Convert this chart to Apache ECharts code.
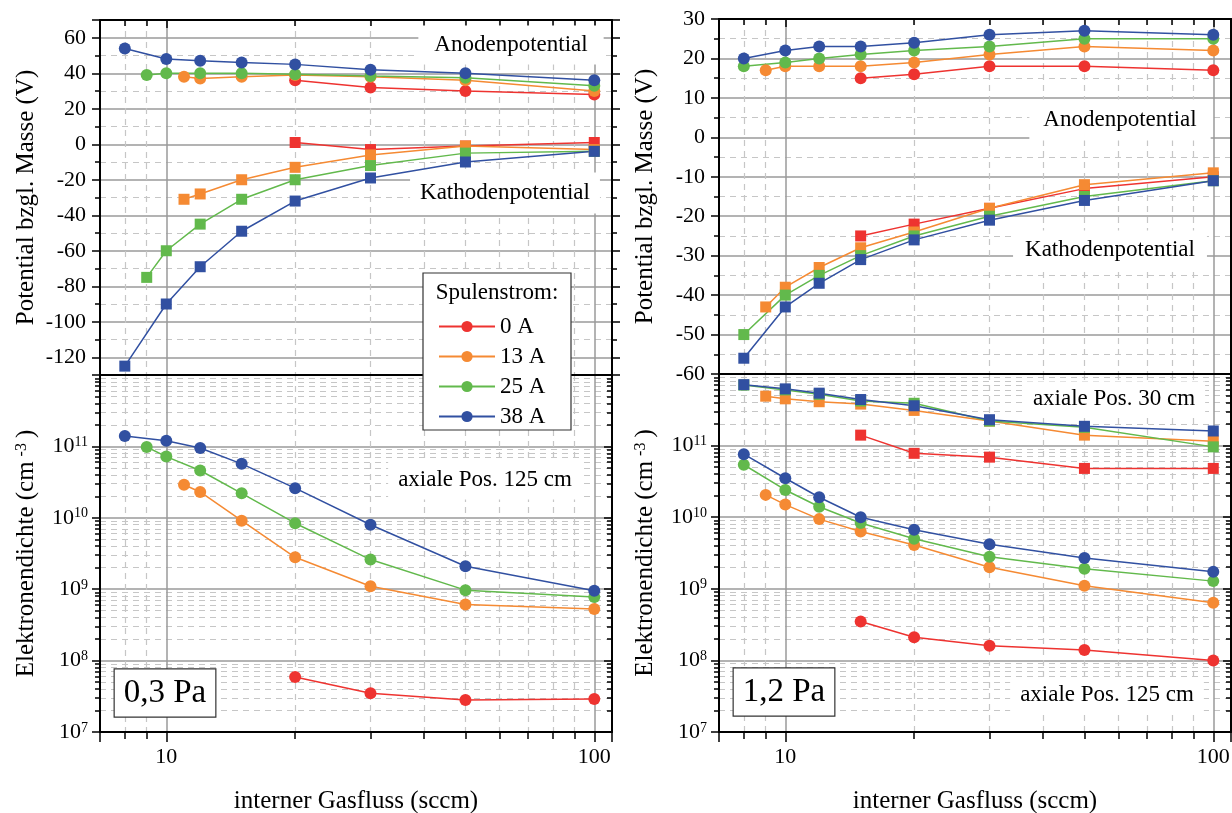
<!DOCTYPE html>
<html>
<head>
<meta charset="utf-8">
<script src="https://cdn.jsdelivr.net/npm/echarts@6/dist/echarts.min.js"></script>
<style>
html, body { margin: 0; padding: 0; background: #fff; }
#main { width: 1232px; height: 813px; }
</style>
</head>
<body>
<div id="main"></div>
<script>
// Spulenstrom (legend)
var currents = ['0 A', '13 A', '25 A', '38 A'];

// interner Gasfluss (sccm), per current
var flowLo = [
    [20, 30, 50, 100],
    [11, 12, 15, 20, 30, 50, 100],
    [9, 10, 12, 15, 20, 30, 50, 100],
    [8, 10, 12, 15, 20, 30, 50, 100]
];
var flowHi = [
    [15, 20, 30, 50, 100],
    [9, 10, 12, 15, 20, 30, 50, 100],
    [8, 10, 12, 15, 20, 30, 50, 100],
    [8, 10, 12, 15, 20, 30, 50, 100]
];

// 0,3 Pa
var anodeLo = [
    [36, 32, 30, 28],
    [38, 37, 38, 39, 38, 36, 30],
    [39, 40, 40, 40, 39.5, 38.5, 37.5, 33],
    [54, 48, 47, 46, 45, 42, 40, 36]
];
var cathodeLo = [
    [1, -3, -1, 1],
    [-31, -28, -20, -13, -6, -1, -3],
    [-75, -60, -45, -31, -20, -12, -5, -4],
    [-125, -90, -69, -49, -32, -19, -10, -4]
];
var dens125Lo = [
    [5.9e7, 3.5e7, 2.8e7, 2.9e7],
    [2.9e10, 2.3e10, 9.1e9, 2.8e9, 1.1e9, 6.1e8, 5.3e8],
    [9.8e10, 7.2e10, 4.6e10, 2.2e10, 8.4e9, 2.6e9, 9.7e8, 7.8e8],
    [1.4e11, 1.2e11, 9.5e10, 5.7e10, 2.6e10, 8e9, 2.1e9, 9.5e8]
];

// 1,2 Pa
var anodeHi = [
    [15, 16, 18, 18, 17],
    [17, 18, 18, 18, 19, 21, 23, 22],
    [18, 19, 20, 21, 22, 23, 25, 25],
    [20, 22, 23, 23, 24, 26, 27, 26]
];
var cathodeHi = [
    [-25, -22, -18, -13, -10],
    [-43, -38, -33, -28, -24, -18, -12, -9],
    [-50, -40, -35, -30, -25, -20, -15, -11],
    [-56, -43, -37, -31, -26, -21, -16, -11]
];
var dens30Hi = [
    [1.4e11, 7.8e10, 6.9e10, 4.8e10, 4.8e10],
    [4.9e11, 4.5e11, 4.1e11, 3.8e11, 3.1e11, 2.2e11, 1.4e11, 1.15e11],
    [7e11, 6e11, 5.2e11, 4.2e11, 3.9e11, 2.2e11, 1.8e11, 9.6e10],
    [7.1e11, 6.2e11, 5.4e11, 4.4e11, 3.6e11, 2.3e11, 1.86e11, 1.6e11]
];
var dens125Hi = [
    [3.5e8, 2.1e8, 1.6e8, 1.4e8, 1e8],
    [2.05e10, 1.5e10, 9.4e9, 6.3e9, 4.1e9, 2e9, 1.1e9, 6.4e8],
    [5.4e10, 2.4e10, 1.4e10, 8.3e9, 5e9, 2.8e9, 1.9e9, 1.28e9],
    [7.6e10, 3.5e10, 1.9e10, 1e10, 6.7e9, 4.2e9, 2.7e9, 1.73e9]
];

var colors = ['#EE3330', '#F58A33', '#62B94C', '#3150A1'];
var FONT = '"Liberation Serif", "Times New Roman", serif';
var BLACK = { color: '#000', width: 2 };
var TICK = { color: '#000', width: 1.5 };
var MAJOR = { color: '#9a9a9a', width: 1.5 };
var MINOR = { color: '#c6c6c6', width: 1.2, type: [6, 5] };

var myChart = echarts.init(document.getElementById('main'));

function makeGrid(left, top, height) {
    return { left: left, top: top, width: 512, height: height, containLabel: false, outerBoundsMode: 'none' };
}

function xMain(gi, labels) {
    return {
        type: 'log', logBase: 10, gridIndex: gi, min: 7, max: 110,
        axisLine: { show: true, onZero: false, lineStyle: BLACK },
        axisTick: { show: labels, inside: false, length: 10, lineStyle: TICK },
        minorTick: { show: labels, splitNumber: 9, length: 7, lineStyle: TICK },
        axisLabel: {
            show: labels, color: '#000', fontFamily: FONT, fontSize: 22, margin: 14,
            formatter: function (v) {
                return (Math.abs(v - 10) < 1e-6 || Math.abs(v - 100) < 1e-6) ? String(Math.round(v)) : '';
            }
        },
        splitLine: { show: true, lineStyle: MAJOR },
        minorSplitLine: { show: true, lineStyle: MINOR },
        name: labels ? 'interner Gasfluss (sccm)' : '',
        nameLocation: 'middle', nameGap: 57,
        nameTextStyle: { color: '#000', fontFamily: FONT, fontSize: 25 }
    };
}

function xMirror(gi, ticks) {
    return {
        type: 'log', logBase: 10, gridIndex: gi, position: 'top', min: 7, max: 110,
        axisLine: { show: true, onZero: false, lineStyle: BLACK },
        axisTick: { show: ticks, inside: true, length: 8, lineStyle: TICK },
        minorTick: { show: ticks, splitNumber: 9, length: 6, lineStyle: TICK },
        axisLabel: { show: false },
        splitLine: { show: false }
    };
}

function yLinear(gi, min, max, split, right, hideEnds, name) {
    return {
        type: 'value', gridIndex: gi, min: min, max: max, splitNumber: split,
        position: right ? 'right' : 'left',
        axisLine: { show: true, onZero: false, lineStyle: BLACK },
        axisTick: { show: true, inside: false, length: 8, lineStyle: TICK },
        minorTick: { show: true, splitNumber: 2, length: 5, lineStyle: TICK },
        axisLabel: {
            show: !right, color: '#000', fontFamily: FONT, fontSize: 22, margin: 14,
            showMinLabel: !hideEnds, showMaxLabel: !hideEnds
        },
        splitLine: { show: !right, lineStyle: MAJOR },
        minorSplitLine: { show: !right, lineStyle: MINOR },
        name: right ? '' : name,
        nameLocation: 'middle', nameGap: 61,
        nameTextStyle: { color: '#000', fontFamily: FONT, fontSize: 25 }
    };
}

function yLog(gi, right) {
    return {
        type: 'log', logBase: 10, gridIndex: gi, min: 1e7, max: 1e12,
        position: right ? 'right' : 'left',
        axisLine: { show: true, onZero: false, lineStyle: BLACK },
        axisTick: { show: true, inside: right, length: 8, lineStyle: TICK },
        minorTick: { show: true, splitNumber: 9, length: 5, lineStyle: TICK },
        axisLabel: {
            show: !right, color: '#000', fontFamily: FONT, fontSize: 22, margin: 12,
            showMaxLabel: false,
            formatter: function (v) {
                return '{b|10}{s|' + Math.round(Math.log(v) / Math.LN10) + '}';
            },
            rich: {
                b: { fontFamily: FONT, fontSize: 22, color: '#000', lineHeight: 22, verticalAlign: 'bottom' },
                s: { fontFamily: FONT, fontSize: 14, color: '#000', lineHeight: 14, verticalAlign: 'top', padding: [0, 0, 14, 0] }
            }
        },
        splitLine: { show: !right, lineStyle: MAJOR },
        minorSplitLine: { show: !right, lineStyle: MINOR },
        name: right ? '' : 'Elektronendichte (cm{s|-3})',
        nameLocation: 'middle', nameGap: 61,
        nameTextStyle: {
            color: '#000', fontFamily: FONT, fontSize: 25,
            rich: {
                s: { fontFamily: FONT, fontSize: 16, color: '#000', lineHeight: 16, verticalAlign: 'top', padding: [0, 5, 14, 5] }
            }
        }
    };
}

function addSeries(list, xs, ys, xi, yi, symbol) {
    for (var i = 0; i < currents.length; i++) {
        list.push({
            type: 'line', name: currents[i], xAxisIndex: xi, yAxisIndex: yi,
            symbol: symbol, symbolSize: symbol === 'circle' ? 12 : 11,
            showSymbol: true, animation: false, silent: true,
            lineStyle: { color: colors[i], width: 1.5 },
            itemStyle: { color: colors[i], borderWidth: 0 },
            data: xs[i].map(function (x, j) { return [x, ys[i][j]]; })
        });
    }
}

var series = [];
addSeries(series, flowLo, anodeLo, 0, 0, 'circle');
addSeries(series, flowLo, cathodeLo, 0, 0, 'rect');
addSeries(series, flowLo, dens125Lo, 2, 2, 'circle');
addSeries(series, flowHi, anodeHi, 4, 4, 'circle');
addSeries(series, flowHi, cathodeHi, 4, 4, 'rect');
addSeries(series, flowHi, dens30Hi, 6, 6, 'rect');
addSeries(series, flowHi, dens125Hi, 6, 6, 'circle');

function label(text, x, y, size, pad, border) {
    return {
        type: 'text', x: x, y: y, z: 3,
        style: {
            text: text, font: size + 'px ' + FONT, fill: '#000',
            align: 'center', verticalAlign: 'middle',
            backgroundColor: '#fff', padding: pad,
            borderColor: border ? '#333' : null, borderWidth: border ? 1.2 : 0
        }
    };
}

var option = {
    animation: false,
    backgroundColor: '#fff',
    textStyle: { fontFamily: FONT },
    grid: [
        makeGrid(100, 20, 355),
        makeGrid(100, 375, 357),
        makeGrid(719, 19, 355),
        makeGrid(719, 374, 358)
    ],
    xAxis: [
        xMain(0, false), xMirror(0, true),
        xMain(1, true), xMirror(1, false),
        xMain(2, false), xMirror(2, true),
        xMain(3, true), xMirror(3, false)
    ],
    yAxis: [
        yLinear(0, -130, 70, 10, false, true, 'Potential bzgl. Masse (V)'),
        yLinear(0, -130, 70, 10, true, true, ''),
        yLog(1, false), yLog(1, true),
        yLinear(2, -60, 30, 9, false, false, 'Potential bzgl. Masse (V)'),
        yLinear(2, -60, 30, 9, true, false, ''),
        yLog(3, false), yLog(3, true)
    ],
    legend: {
        orient: 'vertical', left: 433, top: 310, z: 5,
        itemWidth: 56, itemHeight: 14, itemGap: 7,
        selectedMode: false,
        textStyle: { color: '#000', fontFamily: FONT, fontSize: 23 },
        data: currents
    },
    graphic: [
        label('Anodenpotential', 511, 45, 23, [8, 16], false),
        label('Kathodenpotential', 505, 193, 23, [9, 10], false),
        label('axiale Pos. 125 cm', 485, 480, 23, [8, 10], false),
        label('0,3 Pa', 165, 693, 33, [7, 9], true),
        label('Anodenpotential', 1120, 120, 23, [9, 14], false),
        label('Kathodenpotential', 1110, 250, 23, [8, 12], false),
        label('axiale Pos. 30 cm', 1114, 399, 23, [6, 10], false),
        label('axiale Pos. 125 cm', 1107, 695, 23, [6, 10], false),
        label('1,2 Pa', 784, 692, 33, [7, 9], true),
        {
            type: 'rect', z: 3,
            shape: { x: 423, y: 273, width: 148, height: 157 },
            style: { fill: '#fff', stroke: '#333', lineWidth: 1.2 }
        },
        {
            type: 'text', x: 497, y: 293, z: 5,
            style: { text: 'Spulenstrom:', font: '23px ' + FONT, fill: '#000', align: 'center', verticalAlign: 'middle' }
        }
    ],
    series: series
};
myChart.setOption(option);
</script>
</body>
</html>
